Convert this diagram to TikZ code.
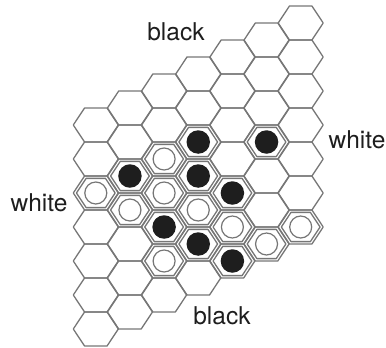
\documentclass[tikz,border=0pt]{standalone}
\usepackage{fontspec}
\setmainfont{TeX Gyre Heros}
\definecolor{gridgray}{HTML}{767676}
\definecolor{inkgray}{HTML}{1E1E1E}

\begin{document}
\begin{tikzpicture}[x=1pt,y=-1pt,
    hexline/.style={draw=gridgray, line width=1.3pt, line join=round},
    blackstone/.style={circle, fill=inkgray, minimum size=23.5pt, inner sep=0pt},
    whitestone/.style={circle, draw=gridgray, fill=white, line width=1.2pt, minimum size=22pt, inner sep=0pt},
    side/.style={text=inkgray, font=\fontsize{24.5}{28}\selectfont},
    hexcell/.pic={\draw[hexline] (-22.5,0) -- (-11.25,-17) -- (11.25,-17) -- (22.5,0)
        -- (11.25,17) -- (-11.25,17) -- cycle;}]
\useasboundingbox (0,0) rectangle (386,348);

% Board: 7 columns, each one half a cell higher than the last
\foreach \k in {0,...,6}
  \foreach \j in {0,...,6}
    \pic at ({95.8+34.15*\k},{125+34*\j-17*\k}) {hexcell};

% Black stones (column/row)
\foreach \k/\j [count=\n] in {3/2,5/3,1/2,3/3,4/4,2/4,3/5,4/6}
{
    \pic[scale=0.86] at ({95.8+34.15*\k},{125+34*\j-17*\k}) {hexcell};
    \node[blackstone] (b\n) at ({95.8+34.15*\k},{125+34*\j-17*\k}) {};
}

% White stones
\foreach \k/\j [count=\n] in {2/2,0/2,1/3,2/3,3/4,4/5,5/6,6/6,2/5}
{
    \pic[scale=0.86] at ({95.8+34.15*\k},{125+34*\j-17*\k}) {hexcell};
    \node[whitestone] (w\n) at ({95.8+34.15*\k},{125+34*\j-17*\k}) {};
}

% Sides of the board
\node[side] (blacktop) at (176,32) {black};
\node[side] (whiteright) at (357,140) {white};
\node[side] (whiteleft) at (39,203) {white};
\node[side] (blackbottom) at (222,316) {black};
\end{tikzpicture}
\end{document}
